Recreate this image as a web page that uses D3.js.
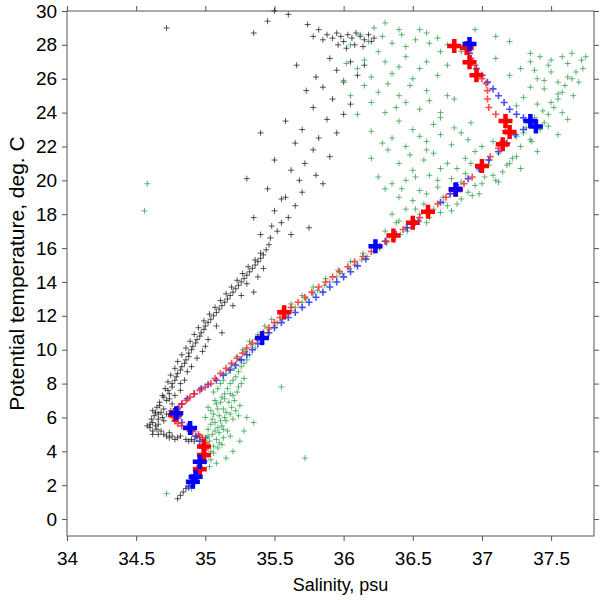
<!DOCTYPE html>
<html><head><meta charset="utf-8">
<script src="https://cdn.jsdelivr.net/npm/d3@7"></script>
<style>body{margin:0;background:#fff}text{font-family:"Liberation Sans",Arial,sans-serif}</style>
</head><body><svg id="c" width="600" height="600"></svg>
<script>
const xTicks=[34,34.5,35,35.5,36,36.5,37,37.5];
const yTicks=[0,2,4,6,8,10,12,14,16,18,20,22,24,26,28,30];
const blackPts=[[34.80,1.2],[34.82,1.4],[34.84,1.6],[34.86,1.8],[34.88,2.0],
[34.60,5.4],[34.62,5.7],[34.64,5.5],[34.66,5.9],[34.63,6.1],[34.68,6.3],[34.65,6.6],[34.70,6.5],[34.67,6.9],[34.72,7.0],[34.69,7.3],[34.74,7.4],[34.71,7.7],[34.76,7.8],[34.73,8.1],[34.78,8.2],[34.75,8.5],[34.80,8.6],[34.78,8.9],[34.83,9.0],[34.80,9.3],[34.86,9.4],[34.83,9.7],[34.88,9.8],[34.86,10.1],[34.91,10.2],[34.89,10.5],[34.94,10.6],[34.92,10.9],[34.97,11.0],[34.95,11.3],[35.00,11.4],[34.99,11.7],[35.04,11.8],[35.03,12.1],[35.08,12.2],[35.07,12.5],[35.12,12.6],[35.11,12.9],[35.16,13.0],[35.15,13.3],[35.20,13.4],[35.19,13.7],[35.24,13.8],[35.23,14.1],[35.28,14.2],[35.27,14.5],[35.32,14.6],[35.31,14.9],[35.36,15.0],[35.36,15.3],[35.40,15.4],[35.40,15.7],[35.44,15.9],[35.46,16.2],[35.47,16.6],
[34.61,5.9],[34.64,6.3],[34.67,6.7],[34.70,7.2],[34.73,7.6],[34.76,8.0],[34.79,8.4],[34.82,8.8],[34.85,9.2],[34.88,9.6],[34.90,10.0],[34.93,10.4],[34.96,10.8],[34.99,11.2],[35.02,11.6],[35.06,12.0],[35.10,12.4],[35.14,12.8],[35.18,13.2],[35.22,13.6],[35.26,14.0],[35.30,14.4],[35.34,14.8],[35.38,15.2],[35.42,15.6],[34.66,5.6],[34.70,5.8],[34.72,6.2],[34.75,6.4],[34.78,7.3],[34.82,8.0],[34.87,8.7],[34.94,9.5],[35.00,10.2],[34.66,5.0],[34.74,5.1],[34.82,4.9],[34.86,4.7],[35.00,4.8],[34.62,5.0],
[34.85,8.2],[34.90,9.0],[34.98,9.9],[35.02,10.6],[35.08,11.4],[35.12,11.0],[35.20,12.6],[35.26,13.2],[35.30,13.9],[35.38,14.3],[35.42,14.8],[35.35,13.4],[34.82,7.6],[34.76,6.8],[34.66,6.2],[34.69,6.0],[34.74,7.1],[34.62,6.4],
[34.70,5.0],[34.72,4.9],[34.74,4.8],[34.76,4.9],[34.78,4.7],[34.80,4.8],[34.68,5.2],[34.65,5.3],[34.90,4.7],[34.92,4.6],[34.94,4.8],[34.96,4.9],[34.98,4.7],[34.88,4.6],[34.62,5.2],[34.60,5.6],[34.58,5.5],
[35.52,17.0],[35.55,17.5],[35.50,18.2],[35.60,17.8],[35.65,18.5],[35.58,19.0],[35.70,19.3],[35.62,16.8],[35.75,17.2],[35.68,20.0],[35.80,20.3],[35.72,21.0],[35.85,19.8],[35.78,21.8],[35.90,21.4],[35.82,22.5],[35.95,22.8],[35.70,23.0],[35.88,23.6],[36.00,23.9],[35.78,24.3],[35.92,24.8],[36.05,24.5],[35.85,25.5],[36.00,25.8],[35.95,26.5],[36.10,26.2],[35.90,27.2],[36.05,27.0],[36.15,26.8],
[35.85,28.3],[35.88,28.6],[35.92,28.4],[35.95,28.7],[35.98,28.5],[36.00,28.2],[36.03,28.6],[36.06,28.4],[36.09,28.7],[36.12,28.5],[36.15,28.3],[36.18,28.6],[36.20,28.2],[36.08,28.0],[36.02,27.8],[35.96,28.0],[36.14,27.9],[35.78,28.5],[35.82,28.9],[36.22,28.4],[35.74,29.2],[35.60,29.8],[35.50,30.0],[34.72,29.0],[35.45,29.4],[35.35,28.7],
[35.40,16.8],[35.48,17.3],[35.35,17.8],[35.55,18.9],[35.45,19.5],[35.62,20.6],[35.30,20.1],[35.50,21.2],[35.65,22.2],[35.58,23.5],[35.40,22.8],[35.73,25.3],[35.80,26.1],[35.66,26.8]];
const greenPts=[[34.90,1.8],[34.93,2.2],[34.96,2.6],[34.98,3.0],[35.00,3.4],[35.02,3.7],[35.04,4.0],[35.00,4.3],[35.06,4.3],[35.03,4.6],[35.08,4.7],[35.05,5.0],[35.10,5.1],[35.02,5.3],[35.12,5.5],[35.07,5.7],[35.15,5.8],[35.00,6.0],[35.10,6.1],[35.18,6.2],[35.04,6.4],[35.13,6.5],[35.22,6.4],[35.08,6.8],[35.17,6.9],[35.25,6.7],[35.12,7.2],[35.20,7.3],[35.06,7.5],[35.16,7.7],[35.24,7.8],[35.11,8.0],[35.20,8.2],[35.28,8.3],[35.15,8.6],[35.24,8.7],[35.19,9.1],[35.28,9.2],[35.23,9.6],[35.32,9.7],[35.27,10.0],[35.36,10.1],[35.32,10.5],[35.41,10.4],[35.38,10.9],[35.45,11.0],[35.43,11.4],[35.50,11.4],[35.48,11.8],[35.56,11.8],[35.55,12.2],[35.62,12.3],[35.62,12.7],[35.70,12.8],[35.70,13.2],[35.78,13.3],[35.78,13.7],[35.86,13.8],[35.87,14.2],[35.95,14.3],[35.96,14.7],[36.04,14.8],[36.05,15.2],[36.13,15.3],[36.14,15.7],[36.22,15.8],[36.23,16.2],[36.31,16.3],[36.33,16.7],[36.41,16.8],[36.30,17.0],[36.45,17.2],[36.38,17.5],[36.52,17.5],
[35.09,5.4],[35.14,6.0],[35.19,6.6],[35.06,6.2],[35.11,6.9],[35.21,7.0],[35.14,7.4],[35.18,8.0],[35.22,8.4],[35.26,9.0],[35.30,9.4],[35.05,5.9],[35.16,5.2],[35.10,4.5],
[35.02,4.9],[35.07,5.2],[35.13,5.3],[35.04,5.6],[35.11,5.8],[35.20,5.9],[35.02,6.6],[35.09,6.5],[35.15,6.3],[35.24,6.1],[35.07,7.0],[35.14,7.1],[35.23,7.5],[35.09,7.7],[35.18,7.4],[35.13,8.2],[35.26,8.0],[35.17,8.8],[35.21,8.9],[35.25,9.4],[35.29,9.9],[35.33,10.3],[35.37,10.6],[35.42,10.8],[35.46,11.2],[35.52,11.6],[35.58,12.0],[35.65,12.5],[35.73,13.0],[35.81,13.5],[35.90,14.0],[35.99,14.5],[36.08,15.0],[36.17,15.5],[36.26,16.0],[36.36,16.5],[36.46,17.0],[35.04,3.5],[35.06,3.9],[35.09,4.2],[35.13,4.8],[34.98,3.8],[35.01,4.8],[35.03,3.1],[35.08,3.3],
[35.30,6.0],[35.35,5.7],[35.28,5.2],[35.72,3.6],[35.55,7.8],[34.72,1.5],[34.58,19.8],[34.56,18.2],[35.25,4.6],[35.20,4.0],[35.15,3.6],[35.12,4.4],[35.18,4.9],
[36.35,18.0],[36.45,18.3],[36.55,18.0],[36.62,17.8],[36.70,18.1],[36.58,18.6],[36.75,18.5],[36.50,18.8],
[36.40,19.0],[36.60,19.2],[36.72,19.0],[36.85,18.9],[36.90,19.3],[36.68,19.6],[36.95,19.7],[36.55,19.4],[36.30,19.5],
[36.45,20.0],[36.62,20.3],[36.78,20.1],[36.88,20.4],[37.02,20.2],[37.10,20.0],[37.15,20.5],[36.70,20.7],[36.50,20.6],[36.25,20.2],
[36.40,21.0],[36.58,21.2],[36.75,21.0],[36.88,21.3],[37.05,21.2],[37.20,21.0],[37.25,21.4],[36.65,21.6],[36.95,21.7],[36.20,21.3],[36.32,21.8],
[36.45,22.0],[36.60,22.3],[36.78,22.1],[36.90,22.4],[37.08,22.3],[37.28,22.0],[37.35,22.4],[36.35,22.5],[36.70,22.7],[37.00,22.0],
[36.20,22.9],[36.50,23.0],[36.65,23.3],[36.80,23.1],[36.92,23.4],[37.30,22.8],[37.42,23.0],[37.45,23.4],[36.40,23.5],
[36.10,23.9],[36.30,24.0],[36.55,24.2],[36.70,24.0],[37.48,23.9],[37.52,24.3],[37.40,24.5],[36.45,24.6],
[36.05,25.0],[36.25,25.2],[36.40,25.0],[36.60,25.3],[36.75,25.0],[37.55,24.8],[37.58,25.2],[37.45,25.4],
[36.00,25.9],[36.20,26.1],[36.35,26.3],[36.50,26.0],[36.68,26.2],[37.20,26.2],[37.40,26.0],[37.55,25.8],[37.62,26.1],[37.68,26.4],[37.50,26.4],
[36.02,26.9],[36.15,27.1],[36.30,27.0],[36.45,27.3],[36.60,27.0],[37.35,27.0],[37.48,26.8],[37.62,26.9],[37.72,27.1],[37.75,27.3],[37.58,27.3],[37.10,27.2],[36.75,26.8],
[36.05,28.0],[36.18,28.2],[36.28,28.5],[36.35,28.1],[36.42,28.6],[36.52,28.3],[36.60,28.7],[36.68,28.4],[36.75,28.0],[36.85,27.6],[37.10,28.5],[37.20,28.2],[36.22,29.0],[36.30,29.3],[36.40,28.9],[36.55,28.9],
[36.65,18.3],[36.80,19.4],[36.98,20.6],[37.12,21.6],[37.25,22.6],[37.38,23.7],[37.50,24.6],[37.60,25.6],[36.72,18.7],[36.85,19.9],[37.05,20.9],[37.18,22.1],[37.32,23.1],[37.44,24.1],[37.55,25.1],[37.65,26.0],
[36.78,18.2],[36.93,19.1],[37.08,20.3],[37.22,21.3],[37.36,22.3],[37.48,23.2],[37.58,24.0],[37.66,25.0],[37.70,25.8],[37.73,26.6],
[36.35,19.8],[36.52,20.2],[36.68,20.0],[36.82,20.7],[36.60,21.8],[36.48,21.5],[36.28,22.2],[36.55,22.6],[36.85,22.8],[36.70,23.7],[36.38,24.3],[36.20,24.6],[36.15,25.6],[36.32,25.7],[36.48,25.6],[36.62,24.7],[36.80,24.8],[36.10,26.6],[36.40,26.7],[36.55,26.6],[36.70,27.6],[36.25,27.6],[36.45,27.9],[36.62,28.1],[36.12,28.6],[37.28,26.6],[37.38,26.5],[37.45,25.9],[37.35,25.5],[37.30,24.9],[37.25,24.4],[37.42,27.3],[37.65,27.5],[37.50,27.1],[36.95,28.9],[37.35,27.5],[36.40,17.6],[36.60,17.5],[36.52,18.3],[36.82,18.6],[36.98,19.2],[37.12,19.9],[37.28,20.7],[37.40,21.7],[37.55,22.7],[37.62,23.6],[37.00,19.8],[37.18,20.9],[36.42,19.5],[36.92,21.0]];
const redPts=[[34.93,2.5],[34.95,2.9],[34.97,3.3],[34.99,3.7],[35.00,4.1],[35.00,4.5],[34.98,4.8],[34.95,5.0],[34.91,5.2],[34.87,5.35],[34.83,5.5],[34.80,5.65],[34.78,5.8],[34.77,6.0],[34.78,6.2],[34.79,6.4],[34.81,6.6],[34.83,6.8],[34.86,7.0],[34.89,7.2],[34.92,7.4],[34.96,7.6],[35.00,7.8],[35.04,8.0],[35.07,8.3],[35.11,8.6],[35.15,8.9],[35.19,9.2],[35.23,9.5],[35.27,9.8],[35.30,10.1],[35.34,10.4],[35.38,10.7],[35.42,11.0],[35.46,11.3],[35.50,11.6],[35.54,11.9],[35.57,12.2],[35.62,12.5],[35.67,12.8],[35.72,13.1],[35.77,13.4],[35.82,13.7],[35.87,14.0],[35.92,14.3],[35.97,14.6],[36.03,14.9],[36.08,15.2],[36.14,15.5],[36.20,15.8],[36.26,16.1],[36.31,16.4],[36.36,16.75],[36.43,17.1],[36.50,17.5],[36.55,17.8],[36.61,18.15],[36.68,18.6],[36.74,19.0],[36.81,19.43],[36.87,19.8],[36.93,20.2],[37.0,20.85],[37.06,21.4],[37.12,21.9],[37.15,22.3],[37.17,22.9],[37.17,23.5],[37.10,23.9],[37.05,24.3],[37.04,24.8],[37.04,25.3],[37.03,25.7],[37.00,26.0],[36.97,26.3],[36.95,26.8],[36.92,27.2],[36.90,27.6],[36.88,27.9]];
const bluePts=[[34.88,1.9],[34.90,2.2],[34.92,2.6],[34.94,3.0],[34.96,3.4],[34.98,3.8],[34.98,4.2],[34.96,4.6],[34.93,4.9],[34.90,5.2],[34.87,5.45],[34.83,5.7],[34.80,5.95],[34.79,6.2],[34.80,6.5],[34.83,6.8],[34.87,7.1],[34.92,7.4],[34.97,7.7],[35.02,7.95],[35.08,8.2],[35.13,8.5],[35.18,8.8],[35.22,9.1],[35.26,9.4],[35.30,9.7],[35.34,10.0],[35.38,10.35],[35.41,10.69],[35.46,11.0],[35.50,11.3],[35.55,11.6],[35.60,11.9],[35.65,12.2],[35.70,12.5],[35.75,12.8],[35.80,13.1],[35.85,13.4],[35.90,13.7],[35.95,14.0],[36.00,14.3],[36.05,14.6],[36.10,14.95],[36.16,15.35],[36.23,16.1],[36.30,16.4],[36.38,16.8],[36.46,17.2],[36.54,17.6],[36.62,18.1],[36.70,18.7],[36.77,19.2],[36.83,19.6],[36.90,20.1],[36.98,20.7],[37.05,21.2],[37.12,21.7],[37.18,22.2],[37.24,22.7],[37.30,23.0],[37.35,23.4],[37.30,23.7],[37.25,23.9],[37.20,24.2],[37.16,24.6],[37.12,25.0],[37.08,25.4],[37.04,25.8],[37.00,26.2],[36.96,26.6],[36.93,27.0],[36.91,27.5],[36.90,27.9]];
const redBig=[[36.80,27.93],[36.89,27.81],[36.91,26.98],[36.96,26.21],[37.17,23.51],[37.20,22.86],[37.15,22.13],[37.00,20.85],[36.81,19.43],[36.61,18.15],[36.50,17.5],[36.36,16.75],[35.57,12.21],[34.78,6.15],[34.99,4.28],[34.99,3.79],[34.96,2.94]];
const blueBig=[[36.91,28.05],[37.35,23.5],[37.39,23.18],[36.81,19.47],[36.23,16.11],[35.41,10.69],[34.79,6.25],[34.89,5.37],[34.96,3.39],[34.93,2.5],[34.91,2.2]];

const L=67,R=594,T=11,B=536;
const svg=d3.select("#c");
const x=d3.scaleLinear().domain([34,37.81]).range([L,R]);
const y=d3.scaleLinear().domain([-1,30]).range([B,T]);
function plus(s){return `M${-s},0H${s}M0,${-s}V${s}`;}
function draw(data,color,s,w,op){
  svg.append("g").selectAll("path").data(data).join("path")
    .attr("transform",d=>`translate(${x(d[0])},${y(d[1])})`)
    .attr("d",plus(s)).attr("stroke",color).attr("stroke-width",w).attr("fill","none").attr("opacity",op);
}
svg.append("rect").attr("x",L).attr("y",T).attr("width",R-L).attr("height",B-T).attr("fill","none").attr("stroke","#555").attr("stroke-width",1);
const fs="19px";
const ax=svg.append("g").attr("transform",`translate(0,${B})`).call(d3.axisBottom(x).tickValues(xTicks).tickSize(5).tickFormat(d3.format("")));
const ay=svg.append("g").attr("transform",`translate(${L},0)`).call(d3.axisLeft(y).tickValues(yTicks).tickSize(5));
const at=svg.append("g").attr("transform",`translate(0,${T})`).call(d3.axisTop(x).tickValues(xTicks).tickSize(5).tickFormat(""));
const ar=svg.append("g").attr("transform",`translate(${R},0)`).call(d3.axisRight(y).tickValues(yTicks).tickSize(5).tickFormat(""));
[ax,ay,at,ar].forEach(g=>{g.select(".domain").remove();g.selectAll("line").attr("stroke","#555");g.selectAll("text").attr("font-size",fs).attr("fill","#000").style("font-family","Liberation Sans, Arial, sans-serif");});
ax.selectAll("text").attr("dy","1.1em");
ay.selectAll("text").attr("dx","-0.1em");
draw(blackPts,"#111",3,1,0.7);
draw(greenPts,"#1f9a3c",3,1,0.7);
draw(bluePts,"#2020ff",3.5,1.6,0.8);
draw(redPts,"#ff2020",3.5,1.6,0.8);
draw(redBig,"#ff0000",7,4.5,1);
draw(blueBig,"#0000ff",7,4.5,1);
svg.append("text").attr("x",(L+R)/2+10).attr("y",591).attr("text-anchor","middle").attr("font-size","18px").text("Salinity, psu");
svg.append("text").attr("transform",`translate(24,${(T+B)/2}) rotate(-90)`).attr("text-anchor","middle").attr("font-size","21px").text("Potential temperature, deg. C");
</script></body></html>
